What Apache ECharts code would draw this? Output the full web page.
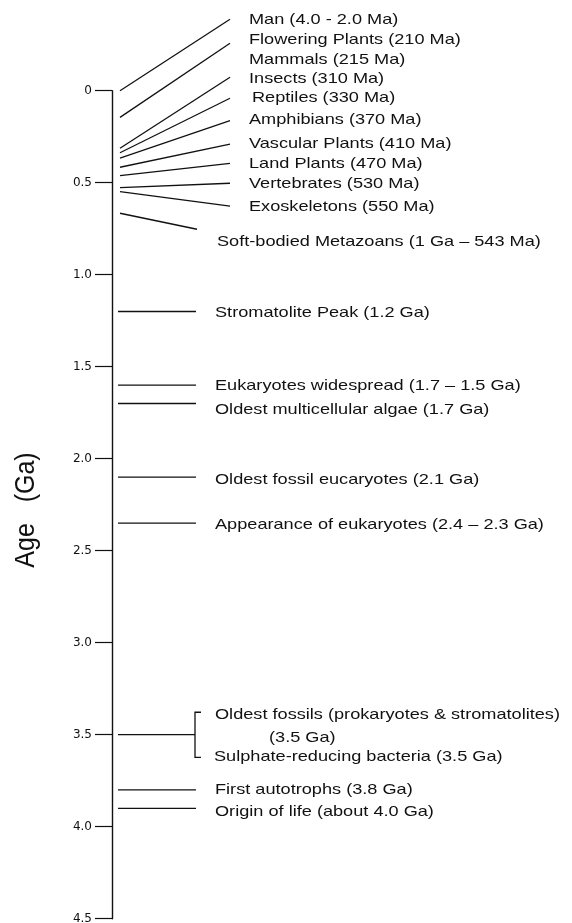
<!DOCTYPE html>
<html><head><meta charset="utf-8">
<script src="https://cdn.jsdelivr.net/npm/echarts@6/dist/echarts.min.js"></script>
<style>html,body{margin:0;padding:0;background:#fff}#c{width:572px;height:923px}</style>
</head><body><div id="c"></div>
<script>
// ---- data (ages in Ga) ----
const yMin = 0, yMax = 4.5, yStep = 0.5;
const fanNames = ['Man (4.0 - 2.0 Ma)','Flowering Plants (210 Ma)','Mammals (215 Ma)','Insects (310 Ma)','Reptiles (330 Ma)','Amphibians (370 Ma)','Vascular Plants (410 Ma)','Land Plants (470 Ma)','Vertebrates (530 Ma)','Exoskeletons (550 Ma)','Soft-bodied Metazoans (1 Ga \u2013 543 Ma)'];
const fanAges = [0.0, 0.145, null, 0.313, 0.337, 0.367, 0.416, 0.462, 0.527, 0.549, 0.666];
const fanLineEnds = [-0.388, -0.258, null, -0.073, 0.041, 0.163, 0.29, 0.395, 0.503, 0.627, 0.753];
const fanLabelAges = [-0.39, -0.281, -0.172, -0.069, 0.034, 0.154, 0.284, 0.393, 0.502, 0.627, 0.816];

const levelNames = ['Stromatolite Peak (1.2 Ga)','Eukaryotes widespread (1.7 \u2013 1.5 Ga)','Oldest multicellular algae (1.7 Ga)','Oldest fossil eucaryotes (2.1 Ga)','Appearance of eukaryotes (2.4 \u2013 2.3 Ga)','Oldest fossils (prokaryotes & stromatolites)','First autotrophs (3.8 Ga)','Origin of life (about 4.0 Ga)'];
const levelAges = [1.2, 1.6, 1.7, 2.1, 2.35, 3.5, 3.8, 3.9];
const levelLabelAges = [1.2, 1.6, 1.73, 2.107, 2.352, 3.387, 3.795, 3.915];

const noteNames = ['(3.5 Ga)', 'Sulphate-reducing bacteria (3.5 Ga)'];
const noteAges = [3.512, 3.616];
const bracketAges = [3.378, 3.623];

// ---- layout / style (x in px offsets from axis) ----
const FONT = 'Liberation Sans, Arial, Helvetica, sans-serif';
const INK = '#111';
const STRETCH = 1.21;
const fanX0 = 8, fanX1 = 118, fanTextX = 137;
const fanOverride = {10: {x1: 85, tx: 105}, 4: {tx: 140}};
const levX0 = 6, levX1 = 84, levTextX = 103, bracketX = 83, bracketTick = 6, noteX = [157, 102];

const chart = echarts.init(document.getElementById('c'), null, {renderer: 'canvas'});

function txt(x, y, s) {
  return {type: 'text', x: x, y: y + 1, scaleX: STRETCH, scaleY: 1,
    style: {text: s, fill: INK, fontSize: 15, fontFamily: FONT, verticalAlign: 'middle', align: 'left'}};
}
function seg(p, q, w) {
  return {type: 'line', shape: {x1: p[0], y1: p[1], x2: q[0], y2: q[1]}, style: {stroke: INK, lineWidth: w || 1.3}};
}

chart.setOption({
  animation: false,
  backgroundColor: '#fff',
  grid: {left: 112, top: 90.7, height: 828, width: 460, outerBoundsMode: 'none'},
  xAxis: {type: 'value', min: 0, max: 460, show: false},
  yAxis: {
    type: 'value', inverse: true, min: yMin, max: yMax, interval: yStep,
    axisLine: {show: true, lineStyle: {color: INK, width: 1.4}},
    axisTick: {show: true, inside: false, length: 17, lineStyle: {color: INK, width: 1.2}},
    axisLabel: {margin: 20, color: INK, fontSize: 12, fontFamily: 'DejaVu Sans, sans-serif',
      formatter: v => v === 0 ? '0' : v.toFixed(1)},
    splitLine: {show: false}
  },
  graphic: [{type: 'text', x: 26, y: 510, rotation: Math.PI / 2, scaleY: 1.12,
    style: {text: 'Age   (Ga)', fill: INK, fontSize: 25, fontFamily: FONT, align: 'center', verticalAlign: 'middle'}}],
  series: [
    {
      type: 'custom', clip: false,
      data: fanNames.map((n, i) => [fanAges[i], fanLineEnds[i], fanLabelAges[i]]),
      renderItem: (params, api) => {
        const i = params.dataIndex;
        const o = fanOverride[i] || {};
        const ch = [];
        const a = fanAges[i], e = fanLineEnds[i];
        if (a !== null && e !== null) {
          ch.push(seg(api.coord([fanX0, api.value(0)]), api.coord([o.x1 || fanX1, api.value(1)])));
        }
        const t = api.coord([o.tx || fanTextX, api.value(2)]);
        ch.push(txt(t[0], t[1], fanNames[i]));
        return {type: 'group', children: ch};
      }
    },
    {
      type: 'custom', clip: false,
      data: levelNames.map((n, i) => [levelAges[i], levelLabelAges[i]]),
      renderItem: (params, api) => {
        const i = params.dataIndex;
        const x1 = levelNames[i].startsWith('Oldest fossils (') ? bracketX : levX1;
        const t = api.coord([levTextX, api.value(1)]);
        return {type: 'group', children: [
          seg(api.coord([levX0, api.value(0)]), api.coord([x1, api.value(0)])),
          txt(t[0], t[1], levelNames[i])
        ]};
      }
    },
    {
      type: 'custom', clip: false,
      data: noteNames.map((n, i) => [noteAges[i]]),
      renderItem: (params, api) => {
        const i = params.dataIndex;
        const t = api.coord([noteX[i], api.value(0)]);
        return txt(t[0], t[1], noteNames[i]);
      }
    },
    {
      type: 'custom', clip: false,
      data: [bracketAges],
      renderItem: (params, api) => {
        const p1 = api.coord([bracketX + bracketTick, api.value(0)]);
        const p2 = api.coord([bracketX, api.value(0)]);
        const p3 = api.coord([bracketX, api.value(1)]);
        const p4 = api.coord([bracketX + bracketTick, api.value(1)]);
        return {type: 'polyline', shape: {points: [p1, p2, p3, p4]}, style: {stroke: INK, lineWidth: 1.3, fill: null}};
      }
    }
  ]
});
</script></body></html>
